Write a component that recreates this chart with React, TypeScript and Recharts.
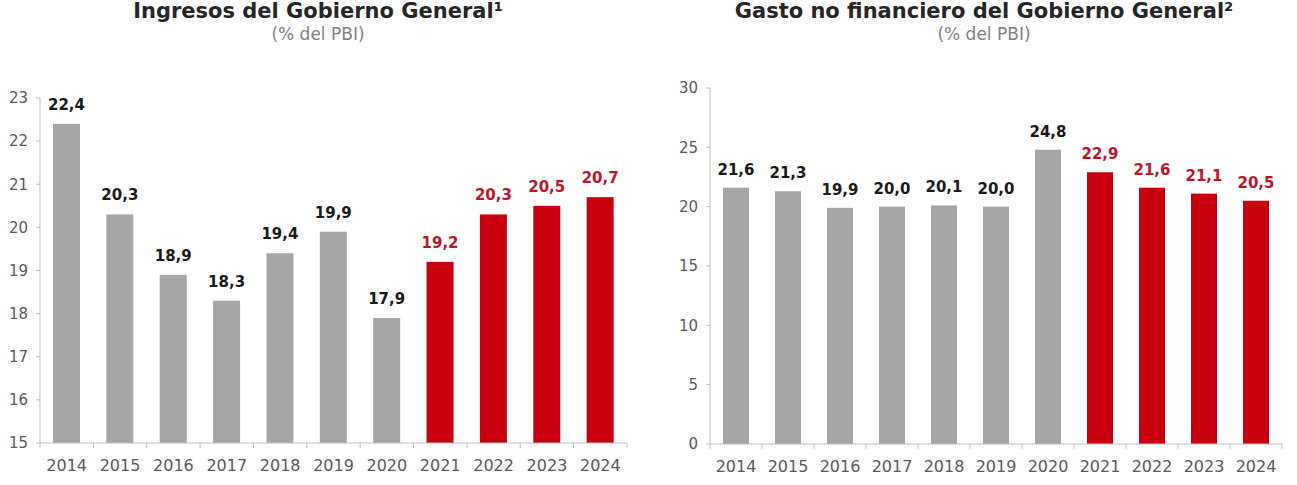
import React from 'react';
import { BarChart, Bar, XAxis, YAxis } from 'recharts';

const years = ['2014', '2015', '2016', '2017', '2018', '2019', '2020', '2021', '2022', '2023', '2024'];
const ingresos = [22.4, 20.3, 18.9, 18.3, 19.4, 19.9, 17.9, 19.2, 20.3, 20.5, 20.7];
const gasto = [21.6, 21.3, 19.9, 20.0, 20.1, 20.0, 24.8, 22.9, 21.6, 21.1, 20.5];
const ingresosTicks = [15, 16, 17, 18, 19, 20, 21, 22, 23];
const gastoTicks = [0, 5, 10, 15, 20, 25, 30];
// years from here on are projections and get drawn in red
const firstProjected = '2021';

const FONT = '"DejaVu Sans", Verdana, sans-serif';
const GRAY = '#a6a6a6';
const RED = '#c8000f';
const AXIS = '#bfbfbf';

const fmt = (v: number) => v.toFixed(1).replace('.', ',');
const isProjected = (year: string) => Number(year) >= Number(firstProjected);

// x ticks sit on the category boundaries, labels in the middle
const YearTick = (props: any) => {
  const { x, y, payload, index, visibleTicksCount } = props;
  const half = payload.offset ?? 26;
  const last = index === visibleTicksCount - 1;
  return (
    <g>
      <line x1={x - half} x2={x - half} y1={y} y2={y + 5} stroke={AXIS} />
      {last && <line x1={x + half} x2={x + half} y1={y} y2={y + 5} stroke={AXIS} />}
      <text x={x} y={y + 22} textAnchor="middle" dominantBaseline="central"
        fill="#595959" fontSize={16} fontFamily={FONT}>
        {payload.value}
      </text>
    </g>
  );
};

// gray for observed years, red for projections
const BarShape = (props: any) => {
  const { x, y, width, height, index } = props;
  if (!(height > 0)) return null;
  return <rect x={x} y={y} width={width} height={height} fill={isProjected(years[index]) ? RED : GRAY} />;
};

const makeValueLabel = (offset: number) => (props: any) => {
  const { x, y, width, value, index } = props;
  const color = isProjected(years[index]) ? '#c0142a' : '#1a1a1a';
  return (
    <text key={`lbl-${index}`} x={x + width / 2} y={y - offset} textAnchor="middle"
      fill={color} fontSize={15} fontWeight="bold" fontFamily={FONT}>
      {fmt(value)}
    </text>
  );
};

type PanelProps = {
  title: string;
  values: number[];
  ticks: number[];
  left: number;
  width: number;
  yAxisWidth: number;
  barSize: number;
  labelOffset: number;
  margin: { top: number; right: number; left: number; bottom: number };
  titleCenter: number;
};

const Panel = ({ title, values, ticks, left, width, yAxisWidth, barSize, labelOffset, margin, titleCenter }: PanelProps) => {
  const data = years.map((year, i) => ({ year, value: values[i] }));
  return (
    <div style={{ position: 'absolute', left, top: 0, width, height: 485 }}>
      <BarChart width={width} height={485} data={data} margin={margin}>
        <XAxis dataKey="year" tickLine={false} tickSize={0} tickMargin={0}
          axisLine={{ stroke: AXIS }} tick={<YearTick />} interval={0} />
        <YAxis width={yAxisWidth} domain={[ticks[0], ticks[ticks.length - 1]]} ticks={ticks}
          axisLine={{ stroke: AXIS }} tickLine={{ stroke: AXIS }}
          tickSize={4} tickMargin={8}
          tick={{ fill: '#595959', fontSize: 15, fontFamily: FONT }} />
        <Bar dataKey="value" barSize={barSize} fill={GRAY} shape={BarShape}
          label={makeValueLabel(labelOffset)} isAnimationActive={false} />
      </BarChart>
      <div style={{
        position: 'absolute', left: titleCenter - 300, width: 600, top: 0, lineHeight: '22px',
        textAlign: 'center', fontFamily: FONT, fontWeight: 'bold', fontSize: 21, color: '#262626',
      }}>
        {title}
      </div>
      <div style={{
        position: 'absolute', left: titleCenter - 300, width: 600, top: 24,
        textAlign: 'center', fontFamily: FONT, fontSize: 17, color: '#808080',
      }}>
        (% del PBI)
      </div>
    </div>
  );
};

export default function App() {
  return (
    <div style={{ position: 'absolute', left: 0, top: 0, width: 1297, height: 485, background: '#fff', overflow: 'hidden' }}>
      <Panel
        title="Ingresos del Gobierno General¹"
        values={ingresos}
        ticks={ingresosTicks}
        left={0}
        width={650}
        yAxisWidth={40}
        barSize={27}
        labelOffset={14}
        margin={{ top: 98, right: 23, left: 0, bottom: 12 }}
        titleCenter={318}
      />
      <Panel
        title="Gasto no financiero del Gobierno General²"
        values={gasto}
        ticks={gastoTicks}
        left={650}
        width={647}
        yAxisWidth={60}
        barSize={26}
        labelOffset={13}
        margin={{ top: 88, right: 15, left: 0, bottom: 11 }}
        titleCenter={334}
      />
    </div>
  );
}
